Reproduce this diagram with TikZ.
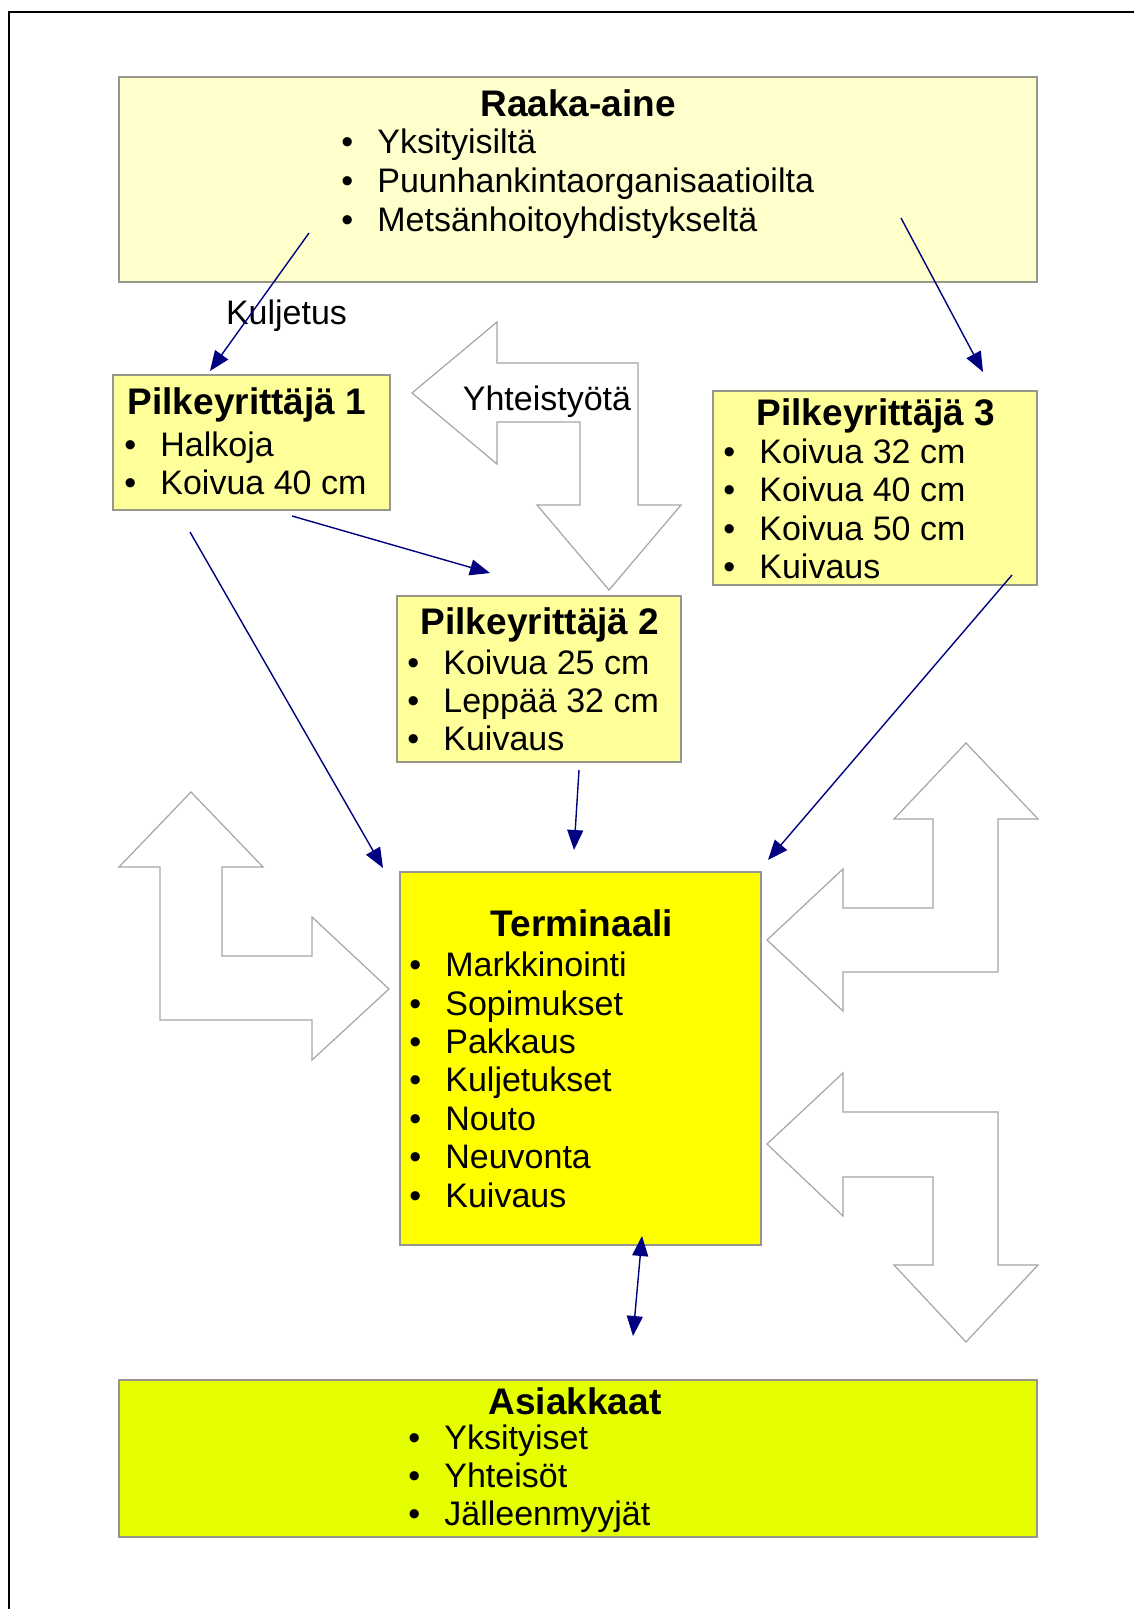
\documentclass[tikz,border=0pt]{standalone}
\usepackage{fontspec}
\setmainfont{Liberation Sans}
\usetikzlibrary{arrows.meta}

\definecolor{boxline}{RGB}{150,150,140}
\definecolor{rawfill}{RGB}{255,255,204}
\definecolor{firmfill}{RGB}{255,255,153}
\definecolor{termfill}{RGB}{255,255,0}
\definecolor{custfill}{RGB}{230,255,0}
\definecolor{linkblue}{RGB}{0,0,128}
\definecolor{shapegray}{RGB}{165,165,165}
\newcommand{\bul}[1]{\makebox[18pt][l]{\textbullet}#1}

\begin{document}
\begin{tikzpicture}
[every node/.style={inner sep=0pt},
 >={Triangle[length=10pt,width=8pt]},
 infobox/.style={rectangle, draw=boxline, line width=0.75pt},
 boxtitle/.style={anchor=base, font=\bfseries\fontsize{18.5}{22}\selectfont},
 itemlist/.style={anchor=base west, align=left, font=\fontsize{17}{19.2}\selectfont},
 note/.style={anchor=base, font=\fontsize{17}{19.2}\selectfont},
 link/.style={line width=0.7pt, color=linkblue},
 bigarrow/.style={draw=shapegray, fill=white, line width=0.6pt, line join=miter}]
\useasboundingbox (0pt,0pt) rectangle (567pt,-804.5pt);
\draw [line width=1pt] (4.5pt,-804.5pt) -- (4.5pt,-6pt) -- (567pt,-6pt);

% hollow arrows
\draw [bigarrow] (206pt,-196.5pt) -- (248.5pt,-161pt) -- (248.5pt,-181.5pt) -- (319pt,-181.5pt) -- (319pt,-252.5pt) -- (340.5pt,-252.5pt) -- (304.5pt,-295pt) -- (268.5pt,-252.5pt) -- (290pt,-252.5pt) -- (290pt,-211pt) -- (248.5pt,-211pt) -- (248.5pt,-232pt) -- cycle;
\draw [bigarrow] (95.5pt,-396pt) -- (131.5pt,-433.5pt) -- (111pt,-433.5pt) -- (111pt,-478pt) -- (156pt,-478pt) -- (156pt,-458.5pt) -- (194.5pt,-494.5pt) -- (156pt,-530pt) -- (156pt,-510pt) -- (80pt,-510pt) -- (80pt,-433.5pt) -- (59.5pt,-433.5pt) -- cycle;
\draw [bigarrow] (483pt,-371.5pt) -- (519pt,-409.5pt) -- (499pt,-409.5pt) -- (499pt,-486pt) -- (421.5pt,-486pt) -- (421.5pt,-505.5pt) -- (383.5pt,-470pt) -- (421.5pt,-434.5pt) -- (421.5pt,-454pt) -- (466.5pt,-454pt) -- (466.5pt,-409.5pt) -- (447pt,-409.5pt) -- cycle;
\draw [bigarrow] (383.5pt,-572pt) -- (421.5pt,-536.5pt) -- (421.5pt,-556pt) -- (499pt,-556pt) -- (499pt,-632.5pt) -- (519pt,-632.5pt) -- (483pt,-671pt) -- (447pt,-632.5pt) -- (466.5pt,-632.5pt) -- (466.5pt,-588.5pt) -- (421.5pt,-588.5pt) -- (421.5pt,-608pt) -- cycle;

% boxes
\node (raaka) [infobox, fill=rawfill, minimum width=459pt, minimum height=102.5pt] at (289pt,-89.75pt) {};
\node (pilke1) [infobox, fill=firmfill, minimum width=138.5pt, minimum height=67.5pt] at (125.75pt,-221.25pt) {};
\node (pilke2) [infobox, fill=firmfill, minimum width=142pt, minimum height=83pt] at (269.5pt,-339.5pt) {};
\node (pilke3) [infobox, fill=firmfill, minimum width=162pt, minimum height=97pt] at (437.5pt,-244pt) {};
\node (termi) [infobox, fill=termfill, minimum width=180.5pt, minimum height=186.5pt] at (290.25pt,-529.25pt) {};
\node (asiak) [infobox, fill=custfill, minimum width=459pt, minimum height=78.5pt] at (289pt,-729.25pt) {};

% texts (lists are placed by their last line)
\node (raaka-t) [boxtitle] at (289pt,-58.5pt) {Raaka-aine};
\node (raaka-l) [itemlist, font=\fontsize{17}{19.5}\selectfont] at (170.5pt,-115.8pt) {\bul{Yksityisiltä}\\ \bul{Puunhankintaorganisaatioilta}\\ \bul{Metsänhoitoyhdistykseltä}};
\node (pilke1-t) [boxtitle] at (123.5pt,-207.5pt) {Pilkeyrittäjä 1};
\node (pilke1-l) [itemlist] at (62pt,-247.2pt) {\bul{Halkoja}\\ \bul{Koivua 40 cm}};
\node (pilke2-t) [boxtitle] at (270pt,-317pt) {Pilkeyrittäjä 2};
\node (pilke2-l) [itemlist] at (203.5pt,-375.4pt) {\bul{Koivua 25 cm}\\ \bul{Leppää 32 cm}\\ \bul{Kuivaus}};
\node (pilke3-t) [boxtitle] at (438pt,-212.75pt) {Pilkeyrittäjä 3};
\node (pilke3-l) [itemlist] at (361.5pt,-289.35pt) {\bul{Koivua 32 cm}\\ \bul{Koivua 40 cm}\\ \bul{Koivua 50 cm}\\ \bul{Kuivaus}};
\node (termi-t) [boxtitle] at (291pt,-468.3pt) {Terminaali};
\node (termi-l) [itemlist] at (204.5pt,-603.5pt) {\bul{Markkinointi}\\ \bul{Sopimukset}\\ \bul{Pakkaus}\\ \bul{Kuljetukset}\\ \bul{Nouto}\\ \bul{Neuvonta}\\ \bul{Kuivaus}};
\node (asiak-t) [boxtitle] at (287.5pt,-707pt) {Asiakkaat};
\node (asiak-l) [itemlist] at (204pt,-762.9pt) {\bul{Yksityiset}\\ \bul{Yhteisöt}\\ \bul{Jälleenmyyjät}};

\node (kuljetus) [note] at (143.25pt,-162.5pt) {Kuljetus};
\node (yhteis) [note] at (273.5pt,-205.5pt) {Yhteistyötä};

% connector ends
\coordinate (a1s) at (154.5pt,-116.5pt);
\coordinate (a1e) at (105pt,-185.5pt);
\coordinate (a2s) at (450.5pt,-109pt);
\coordinate (a2e) at (491.5pt,-186pt);
\coordinate (a3s) at (146pt,-258pt);
\coordinate (a3e) at (245pt,-286.5pt);
\coordinate (a4s) at (95pt,-266pt);
\coordinate (a4e) at (191.5pt,-434pt);
\coordinate (a5s) at (289.5pt,-385pt);
\coordinate (a5e) at (287pt,-425pt);
\coordinate (a6s) at (506pt,-287.5pt);
\coordinate (a6e) at (384pt,-430pt);
\coordinate (a7s) at (321pt,-618pt);
\coordinate (a7e) at (316.5pt,-668pt);

\draw [link, ->] (a1s) -- (a1e);
\draw [link, ->] (a2s) -- (a2e);
\draw [link, ->] (a3s) -- (a3e);
\draw [link, ->] (a4s) -- (a4e);
\draw [link, ->] (a5s) -- (a5e);
\draw [link, ->] (a6s) -- (a6e);
\draw [link, <->] (a7s) -- (a7e);
\end{tikzpicture}
\end{document}
